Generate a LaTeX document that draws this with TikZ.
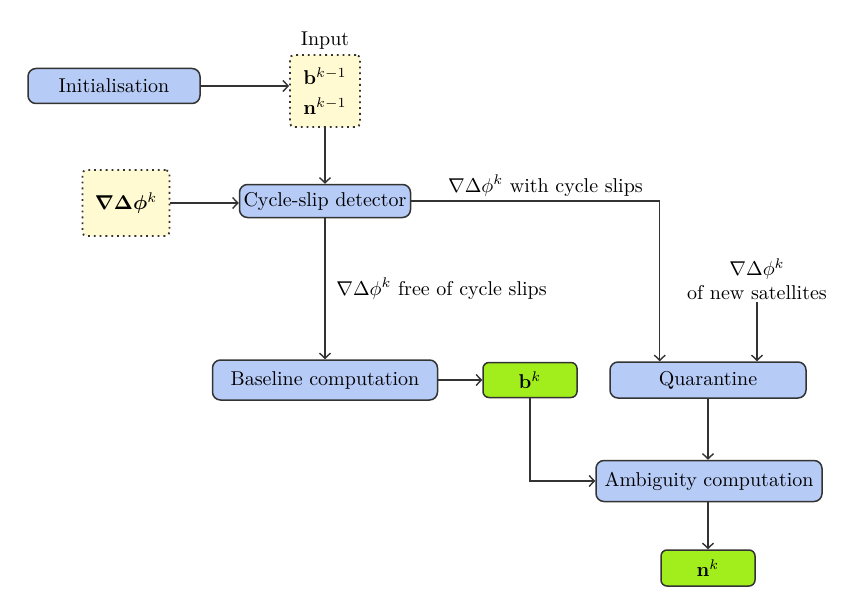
\documentclass[tikz,border=0pt]{standalone}
\usepackage{amsmath}
\usepackage{amssymb}
\usepackage{bm}
\usepackage{xcolor}
\usepackage{tikz}
\usetikzlibrary{calc}
\usetikzlibrary{positioning}
\usetikzlibrary{arrows.meta}
\definecolor{blk}{HTML}{B7CBF7}
\definecolor{grn}{HTML}{A2EE1C}
\definecolor{ylw}{HTML}{FFFAD2}
\definecolor{edg}{HTML}{333333}
\begin{document}
\begin{tikzpicture}[x=0.5pt, y=-0.5pt, >={Straight Barb[length=2.6pt, width=5.5pt]},
  proc/.style={draw=edg, line width=0.75pt, fill=blk, rounded corners=4pt, inner sep=2pt, minimum height=17.5pt},
  res/.style={draw=edg, line width=0.75pt, fill=grn, rounded corners=3pt, minimum width=47pt, minimum height=17.5pt},
  inp/.style={draw=edg, dotted, line width=0.9pt, fill=ylw, rounded corners=2pt},
  conn/.style={->, draw=edg, line width=0.7pt}]
\useasboundingbox (0,0) rectangle (850,615);
\node[proc, minimum width=86pt] (init) at (114,86) {Initialisation};
\node[inp, minimum width=35pt, minimum height=36pt, align=left, label={[yshift=-1pt]above:Input}] (input) at (325,91) {$\mathbf{b}^{k-1}$\\[3pt]$\mathbf{n}^{k-1}$};
\node[inp, minimum width=43.5pt, minimum height=33pt] (grad) at (126,203) {$\bm{\nabla\Delta\phi}^k$};
\node[proc, minimum width=85.5pt, minimum height=16.5pt] (csd) at (325,201) {Cycle-slip detector};
\node[proc, minimum width=112.5pt, minimum height=20pt] (base) at (325,380) {Baseline computation};
\node[res] (bk) at (530,380) {$\mathbf{b}^k$};
\node[proc, minimum width=98pt, minimum height=18pt] (quar) at (708,380) {Quarantine};
\node[proc, minimum width=113pt, minimum height=20.5pt] (amb) at (709,481) {Ambiguity computation};
\node[res, minimum height=18pt] (nk) at (708,568) {$\mathbf{n}^k$};
\node[align=center, inner sep=1pt] (sat) at (757,279) {$\nabla\Delta\phi^k$\\of new satellites};

\draw[conn] (init.east) -- (input.west |- init.east);
\draw[conn] (input) -- (csd);
\draw[conn] (grad) -- (grad -| csd.west);
\draw[conn] (csd.east) -| node[pos=0.27, above, inner sep=2pt]{$\nabla\Delta\phi^k$ with cycle slips} ([xshift=25.25pt]quar.north west);
\draw[conn] (csd) -- node[midway, right, xshift=2pt]{$\nabla\Delta\phi^k$ free of cycle slips} (base);
\draw[conn] (base) -- (bk);
\draw[conn] (sat.south) -- (sat.south |- quar.north);
\draw[conn] (quar) -- (quar |- amb.north);
\draw[conn] (bk.south) |- (amb.west);
\draw[conn] (amb.south -| nk) -- (nk);
\end{tikzpicture}
\end{document}
